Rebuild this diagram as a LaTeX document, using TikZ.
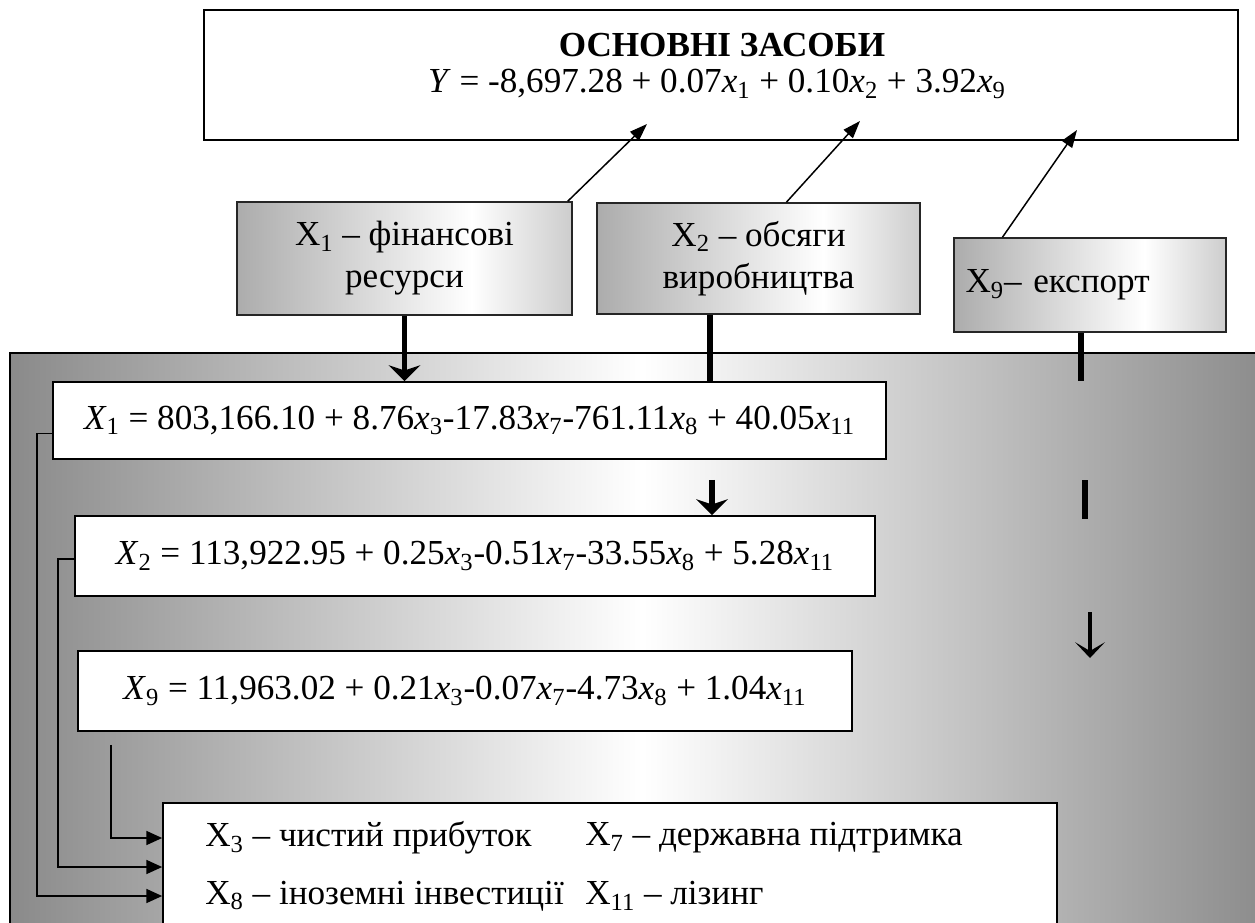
\documentclass[tikz,border=0pt]{standalone}
\usepackage{fontspec}
\setmainfont{Liberation Serif}
\usetikzlibrary{arrows.meta,positioning,calc}
\definecolor{panelgray}{RGB}{138,138,138}
\definecolor{boxdark}{RGB}{172,172,172}
\definecolor{boxlight}{RGB}{205,205,205}
\pgfdeclarehorizontalshading{boxshade}{100bp}{color(0bp)=(boxdark); color(25bp)=(boxdark); color(60bp)=(white); color(75bp)=(boxlight); color(100bp)=(boxlight)}
\pgfdeclarehorizontalshading{panelshade}{100bp}{color(0bp)=(panelgray); color(25bp)=(panelgray); color(50bp)=(white); color(75bp)=(panelgray); color(100bp)=(panelgray)}
\newcommand{\Xs}[1]{\textit{X}\textsubscript{#1}}
\newcommand{\xs}[1]{\textit{x}\textsubscript{#1}}
\tikzset{
  topbox/.style={draw, line width=1.1pt, fill=white, minimum width=20.68cm, minimum height=2.6cm},
  factor/.style={draw=black!85, line width=0.9pt, shading=boxshade, align=center, inner sep=0pt, font=\fontsize{20}{24}\selectfont},
  eqbox/.style={draw, line width=1.1pt, fill=white, inner sep=0pt, font=\fontsize{20}{24}\selectfont},
  legbox/.style={draw, line width=1.1pt, fill=white, inner sep=0pt},
  legtxt/.style={anchor=west, inner sep=0pt, font=\fontsize{20}{24}\selectfont},
  thinarr/.style={-{Triangle[length=10pt,width=7pt]}, line width=0.85pt},
  legarr/.style={-{Triangle[length=9pt,width=8pt]}, line width=0.85pt},
  thickln/.style={line width=3.2pt},
  thickarr/.style={-{Stealth[length=9pt,width=18pt,inset=3pt]}, line width=3.2pt},
}

\begin{document}
\begin{tikzpicture}[x=0.02cm,y=-0.02cm]
  \useasboundingbox (0,0) rectangle (1255,923);
  % grey panel behind the equations
  \path[shading=panelshade, draw, line width=0.8pt] (10,353) rectangle (1275,950);

  % result box
  \node[topbox] (res) at (721,75) {};
  \node[font=\fontsize{20}{22}\selectfont\bfseries] (title) at (722,45) {ОСНОВНІ ЗАСОБИ};
  \node[font=\fontsize{20}{24}\selectfont] (yeq) at (717,84)
    {\textit{Y} = -8,697.28 + 0.07\xs{1} + 0.10\xs{2} + 3.92\xs{9}};

  % factors
  \node[factor, minimum width=6.7cm, minimum height=2.26cm] (fin) at (404.5,258.5)
    {X\textsubscript{1} -- фінансові\\ресурси};
  \node[factor, minimum width=6.46cm, minimum height=2.22cm] (vol) at (758.5,258.5)
    {X\textsubscript{2} -- обсяги\\виробництва};
  \node[factor, minimum width=5.44cm, minimum height=1.88cm, text width=4.98cm, align=left, inner xsep=0.23cm] (exp) at (1090,285)
    {X\textsubscript{9}-- експорт};

  \coordinate (t1) at (647,124);
  \coordinate (t2) at (860,121);
  \coordinate (t3) at (1077,130);
  \draw[thinarr] ([xshift=-0.1cm]fin.north east) -- (t1);
  \draw[thinarr] ($(vol.north west)!0.586!(vol.north east)$) -- (t2);
  \draw[thinarr] ($(exp.north west)!0.18!(exp.north east)$) -- (t3);

  % equations
  \node[eqbox, minimum width=16.66cm, minimum height=1.54cm] (eqa) at (469.5,420.5)
    {\Xs{1} = 803,166.10 + 8.76\xs{3}-17.83\xs{7}-761.11\xs{8} + 40.05\xs{11}};
  \node[eqbox, minimum width=16cm, minimum height=1.6cm] (eqb) at (475,556)
    {\Xs{2} = 113,922.95 + 0.25\xs{3}-0.51\xs{7}-33.55\xs{8} + 5.28\xs{11}};
  \node[eqbox, minimum width=15.48cm, minimum height=1.6cm] (eqc) at (465,691)
    {\Xs{9} = 11,963.02 + 0.21\xs{3}-0.07\xs{7}-4.73\xs{8} + 1.04\xs{11}};

  \draw[thickarr] (fin.south) -- (eqa.north -| fin.south);
  \draw[thickln] (vol.south -| 710,0) -- (eqa.north -| 710,0);
  \draw[thickarr] (eqa.south -| 712,0) ++(0,20) -- (eqb.north -| 712,0);

  \coordinate (d1) at (1081,381);
  \coordinate (d2) at (1085,480);
  \coordinate (d3) at (1085,519);
  \coordinate (d4) at (1090,612);
  \coordinate (d5) at (1090,658);
  \draw[thickln] (exp.south -| d1) -- (d1);
  \draw[thickln] (d2) -- (d3);
  \draw[-{Stealth[length=9pt,width=17pt,inset=5pt]}, line width=2pt] (d4) -- (d5);

  % factor list
  \node[legbox, minimum width=17.88cm, minimum height=3.4cm] (leg) at (610,888) {};
  \node[legtxt] (l3) at (205,838) {X\textsubscript{3} -- чистий прибуток};
  \node[legtxt] (l7) at (585,838) {X\textsubscript{7} -- державна підтримка};
  \node[legtxt] (l8) at (205,896) {X\textsubscript{8} -- іноземні інвестиції};
  \node[legtxt] (l11) at (585,896) {X\textsubscript{11} -- лізинг};

  \draw[legarr] ([yshift=-0.26cm]eqa.west) -| (37,600) |- (leg.west |- l8);
  \draw[legarr] ([yshift=-0.06cm]eqb.west) -| (58,700) |- (leg.west |- 0,867);
  \draw[legarr] ([xshift=0.68cm,yshift=-0.26cm]eqc.south west) |- (leg.west |- l3);
\end{tikzpicture}
\end{document}
